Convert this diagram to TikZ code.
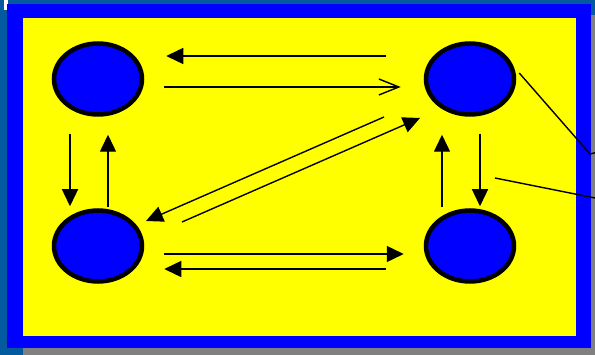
\documentclass[tikz,border=0pt]{standalone}
\usepackage{xcolor}
\usepackage{tikz}
\usetikzlibrary{arrows.meta,shapes.geometric}

\definecolor{steel}{RGB}{4,90,158}
\definecolor{frameblue}{RGB}{0,0,255}
\definecolor{padyellow}{RGB}{255,255,0}
\definecolor{shadowgray}{RGB}{128,128,128}

\begin{document}
\begin{tikzpicture}[
  x=1pt, y=-1pt,
  cell/.style={draw, ellipse, fill=frameblue, line width=4.5pt, inner sep=0pt, minimum width=88pt, minimum height=71pt},
  edg/.style={-{Triangle[length=17pt,width=16pt]}, line width=1.4pt},
  edgo/.style={-{Straight Barb[length=20pt,width=16pt,line width=1.4pt]}, line width=1.4pt},
  lnk/.style={line width=1.4pt}
]

\useasboundingbox (0,0) rectangle (595,355);
\clip (0,0) rectangle (595,355);

% background, shadow, frame
\fill[steel] (0,0) rectangle (595,355);
\fill[white] (4,0) rectangle (8,10);
\fill[shadowgray] (23,15) rectangle (607,359);
\fill[frameblue] (7,4) rectangle (591,348);
\fill[padyellow] (23,18) rectangle (576,336);

\node[cell] (tl) at (98,79) {};
\node[cell] (tr) at (470,79) {};
\node[cell] (bl) at (98,246) {};
\node[cell] (br) at (470,246) {};

% horizontal pairs
\draw[edg] ([shift={(-38,-23)}]tr.west) -- ([shift={(22,-23)}]tl.east);
\draw[edgo] ([shift={(20,8)}]tl.east) -- ([shift={(-23,8)}]tr.west);
\draw[edg] ([shift={(20,8)}]bl.east) -- ([shift={(-20,8)}]br.west);
\draw[edg] ([shift={(-38,23)}]br.west) -- ([shift={(20,23)}]bl.east);

% vertical pairs
\draw[edg] ([shift={(-28,17)}]tl.south) -- ([shift={(-28,-2)}]bl.north);
\draw[edg] ([shift={(10,-1)}]bl.north) -- ([shift={(10,18)}]tl.south);
\draw[edg] ([shift={(-28,-1)}]br.north) -- ([shift={(-28,18)}]tr.south);
\draw[edg] ([shift={(10,17)}]tr.south) -- ([shift={(10,-2)}]br.north);

% diagonals
\draw[edg] ([shift={(-86,38)}]tr.center) -- ([shift={(48,-25)}]bl.center);
\draw[edg] ([shift={(84,-24)}]bl.center) -- ([shift={(-50,39)}]tr.center);

% lines running off to the right
\coordinate (kneeA) at (590,154);
\coordinate (endA) at (610,149);
\coordinate (startB) at (495,178);
\coordinate (endB) at (610,201);
\draw[lnk] ([shift={(3,-6)}]tr.east) -- (kneeA) -- (endA);
\draw[lnk] (startB) -- (endB);

\end{tikzpicture}
\end{document}
